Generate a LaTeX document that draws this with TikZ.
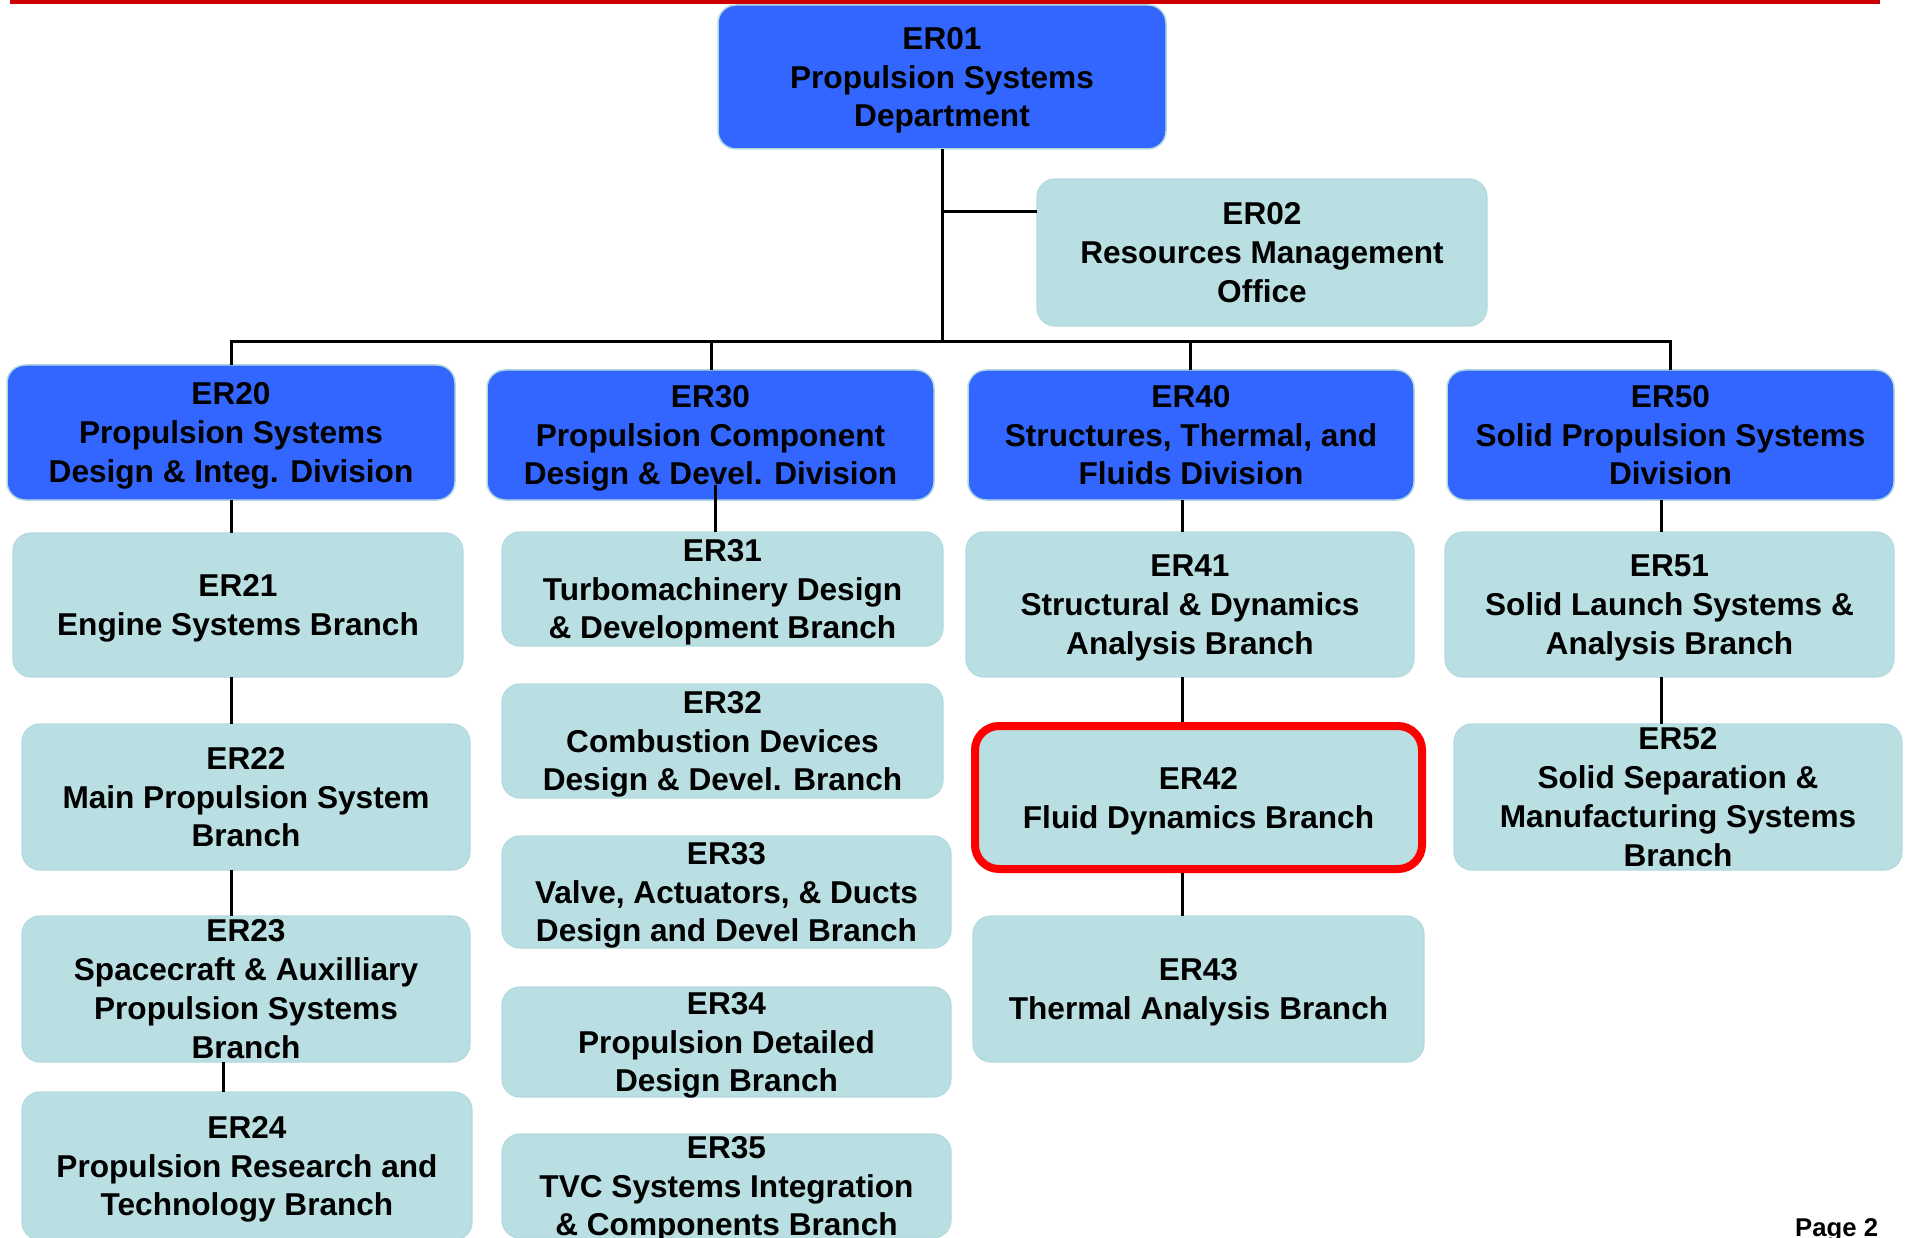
\documentclass[tikz,border=0pt]{standalone}
\usepackage{fontspec}
\setmainfont{Liberation Sans}
\definecolor{divblue}{HTML}{3366FF}
\definecolor{brfill}{HTML}{B9DFE2}
\definecolor{brline}{HTML}{B2DADE}
\definecolor{topred}{HTML}{CC0000}
\definecolor{hired}{HTML}{FF0000}
\tikzset{
  x=1pt, y=-1pt,
  boxbase/.style={rectangle, rounded corners=18pt, inner sep=0pt, outer sep=0pt},
  divbox/.style={boxbase, fill=divblue, draw=brline, line width=1.5pt},
  brbox/.style={boxbase, fill=brfill, draw=brline, line width=1.2pt},
  hibox/.style={boxbase, fill=brfill, draw=hired, line width=8pt, rounded corners=24pt},
  lbl/.style={align=center, inner sep=0pt, font=\fontsize{31.6}{38.9}\selectfont\bfseries},
  conn/.style={draw=black, line width=3pt},
}
\newcommand\obox[7]{%
  \node[#2, minimum width={#5-#3}, minimum height={#6-#4}] (#1) at ({(#3+#5)/2},{(#4+#6)/2}) {};
  \node[lbl] (#1t) at ([yshift=-3.3pt]#1.center) {\strut #7\strut};
}
\begin{document}
\begin{tikzpicture}
\useasboundingbox (0,0) rectangle (1906,1238);
\fill[topred] (10,0) rectangle (1880,4);

% top level
\obox{er01}{divbox}{718}{5}{1166}{149}{ER01\\Propulsion Systems\\Department}
\obox{er02}{brbox}{1037}{179}{1487}{326}{ER02\\Resources Management\\Office}

% divisions
\obox{er20}{divbox}{7}{365}{455}{500}{ER20\\Propulsion Systems\\Design \& Integ. Division}
\obox{er30}{divbox}{487}{370}{934}{500}{ER30\\Propulsion Component\\Design \& Devel. Division}
\obox{er40}{divbox}{968}{370}{1414}{500}{ER40\\Structures, Thermal, and\\Fluids Division}
\obox{er50}{divbox}{1447}{370}{1894}{500}{ER50\\Solid Propulsion Systems\\Division}

% column 1
\obox{er21}{brbox}{13}{533}{463}{677}{ER21\\Engine Systems Branch}
\obox{er22}{brbox}{22}{724}{470}{870}{ER22\\Main Propulsion System\\Branch}
\obox{er23}{brbox}{22}{916}{470}{1062}{ER23\\Spacecraft \& Auxilliary\\Propulsion Systems\\Branch}
\obox{er24}{brbox}{22}{1092}{472}{1240}{ER24\\Propulsion Research and\\Technology Branch}

% column 2
\obox{er31}{brbox}{502}{532}{943}{646}{ER31\\Turbomachinery Design\\\& Development Branch}
\obox{er32}{brbox}{502}{684}{943}{798}{ER32\\Combustion Devices\\Design \& Devel. Branch}
\obox{er33}{brbox}{502}{836}{951}{948}{ER33\\Valve, Actuators, \& Ducts\\Design and Devel Branch}
\obox{er34}{brbox}{502}{987}{951}{1097}{ER34\\Propulsion Detailed\\Design Branch}
\obox{er35}{brbox}{502}{1134}{951}{1238}{ER35\\TVC Systems Integration\\\& Components Branch}

% column 3
\obox{er41}{brbox}{966}{532}{1414}{677}{ER41\\Structural \& Dynamics\\Analysis Branch}
\obox{er42}{hibox}{975}{726}{1422}{869}{ER42\\Fluid Dynamics Branch}
\obox{er43}{brbox}{973}{916}{1424}{1062}{ER43\\Thermal Analysis Branch}

% column 4
\obox{er51}{brbox}{1445}{532}{1894}{677}{ER51\\Solid Launch Systems \&\\Analysis Branch}
\obox{er52}{brbox}{1454}{724}{1902}{870}{ER52\\Solid Separation \&\\Manufacturing Systems\\Branch}

% connectors
\coordinate (bus) at (942,342);
\coordinate (e2in) at ([yshift=40.5pt]er02.west);
\draw[conn] (er01.south) -- (bus);
\draw[conn] (e2in) -- (e2in -| bus);
\draw[conn] (er20.north) |- (bus) -| (er50.north);
\draw[conn] ([xshift=0.5pt]er30.north) -- ([xshift=0.5pt]er30.north |- bus);
\draw[conn] ([xshift=-1pt]er40.north) -- ([xshift=-1pt]er40.north |- bus);

\draw[conn] (er20.south) -- (er20.south |- er21.north);
\draw[conn] (er21.south -| er20.south) -- (er22.north -| er20.south);
\draw[conn] (er22.south -| er20.south) -- (er23.north -| er20.south);
\draw[conn] ([xshift=-23pt]er23.south) -- ([xshift=-24pt]er24.north);

\draw[conn] ([xshift=-7.5pt,yshift=15pt]er31.north |- er30.south) -- ([xshift=-7.5pt]er31.north);

\draw[conn] ([xshift=-8pt]er41.north |- er40.south) -- ([xshift=-8pt]er41.north);
\draw[conn] ([xshift=-8pt]er41.south) -- ([xshift=-8pt,yshift=4pt]er41.south |- er42.north);
\draw[conn] ([xshift=-8pt,yshift=-4pt]er41.south |- er42.south) -- ([xshift=-8pt]er41.south |- er43.north);

\draw[conn] ([xshift=-8pt]er51.north |- er50.south) -- ([xshift=-8pt]er51.north);
\draw[conn] ([xshift=-8pt]er51.south) -- ([xshift=-8pt]er51.south |- er52.north);

\node[anchor=base west, inner sep=0pt, font=\fontsize{25.7}{30}\selectfont\bfseries] (page) at (1795,1236) {Page 2};
\end{tikzpicture}
\end{document}
